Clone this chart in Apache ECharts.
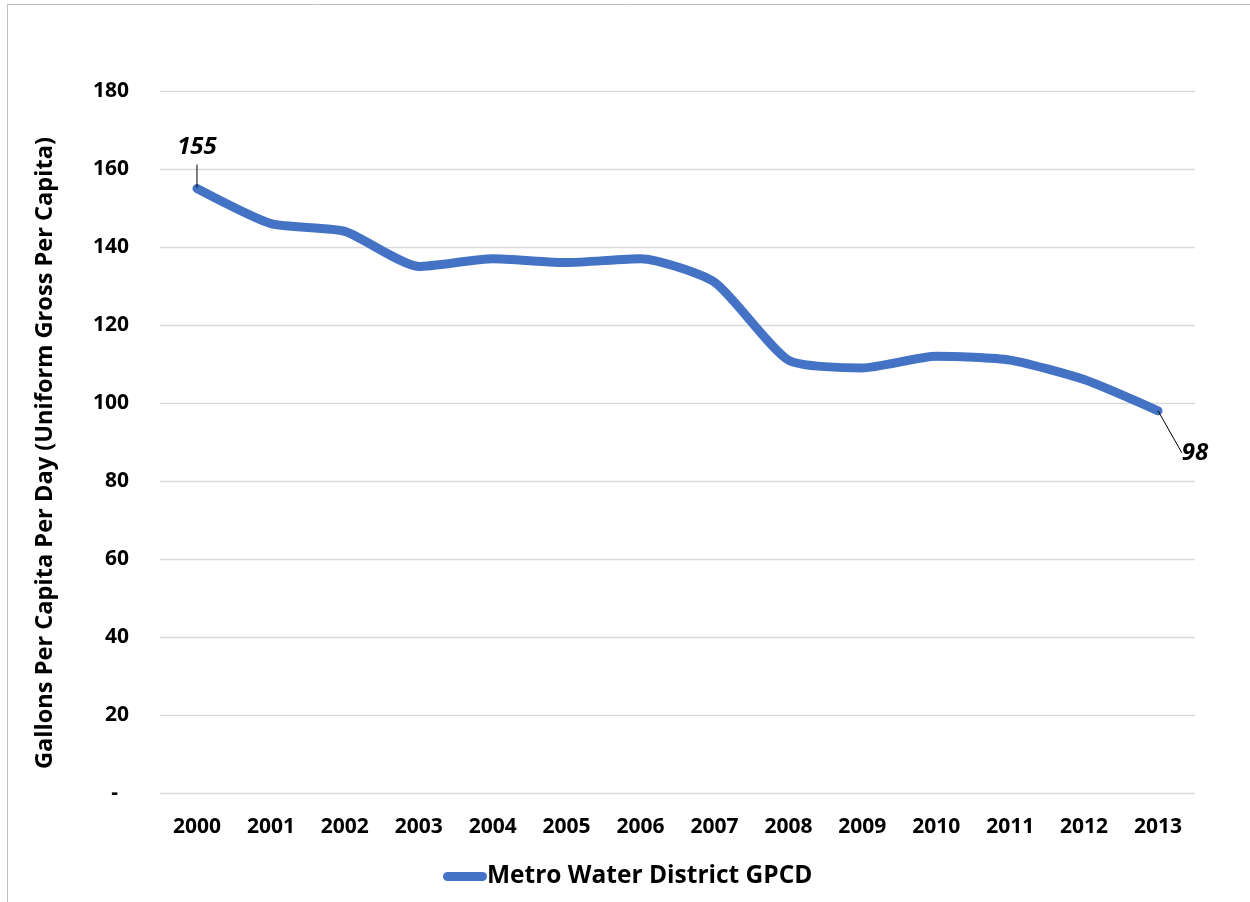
<!DOCTYPE html>
<html><head><meta charset="utf-8">
<script src="https://cdn.jsdelivr.net/npm/echarts@6/dist/echarts.min.js"></script>
<style>html,body{margin:0;padding:0;background:#fff}#c{width:1250px;height:902px}</style>
</head><body><div id="c"></div>
<script>
const years = ['2000','2001','2002','2003','2004','2005','2006','2007','2008','2009','2010','2011','2012','2013'];
const gpcd = [155,146,144,135,137,136,137,131,111,109,112,111,106,98];
const seriesName = 'Metro Water District GPCD';
const yTitle = 'Gallons Per Capita Per Day (Uniform Gross Per Capita)';
const firstIdx = 0, lastIdx = gpcd.length - 1;

const FONT = 'Open Sans';
const labelText = {fontFamily:FONT, fontWeight:'bold', fontStyle:'italic', fontSize:24, color:'#000'};
const chart = echarts.init(document.getElementById('c'));
chart.setOption({
  backgroundColor: '#fff',
  animation: false,
  graphic: [{type:'rect', shape:{x:7.5,y:4.5,width:1260,height:920}, style:{fill:'none', stroke:'#bfbfbf', lineWidth:1}, silent:true}],
  grid: {left:160, right:55, top:91, bottom:109},
  legend: {
    left: 438, top: 859, itemWidth: 44, itemHeight: 9, itemGap: 0,
    icon: 'path://M4.5,0 L39.5,0 A4.5,4.5 0 0 1 39.5,9 L4.5,9 A4.5,4.5 0 0 1 4.5,0 Z',
    textStyle: {fontFamily: FONT, fontWeight:'bold', fontSize:24.5, color:'#000', padding:[0,0,0,-5]},
    data: [seriesName]
  },
  xAxis: {
    type:'category', data: years, boundaryGap: true,
    axisLine:{show:false}, axisTick:{show:false},
    axisLabel:{fontFamily:FONT, fontWeight:'bold', fontSize:21, color:'#000', margin:24}
  },
  yAxis: {
    type:'value', min:0, max:180, interval:20,
    name: yTitle, nameLocation:'middle', nameGap:103, nameRotate:90,
    nameTextStyle:{fontFamily:FONT, fontWeight:'bold', fontSize:23.6, color:'#000', padding:[0,22,0,0]},
    axisLine:{show:false}, axisTick:{show:false},
    splitLine:{lineStyle:{color:'#d9d9d9', width:1.3}},
    axisLabel:{fontFamily:FONT, fontWeight:'bold', fontSize:21, color:'#000', margin:31,
      formatter: v => v === 0 ? '-  ' : String(v)}
  },
  series: [{
    name: seriesName, type:'line',
    data: gpcd.map((v,i)=>{
      if (i === firstIdx) return {
        value: v,
        label: {show:true, position:'top', distance:1,
          formatter: '{v|{c}}\n{g|}',
          rich: {
            v: Object.assign({}, labelText, {lineHeight:34}),
            g: {width:1, height:23, backgroundColor:'#000', align:'center'}
          }
        },
        labelLine: {show:false}
      };
      if (i === lastIdx) return {
        value: v,
        label: {show:true, position:'inside'},
        labelLine: {show:true}
      };
      return {value: v};
    }),
    smooth: 0.2, showSymbol:true, symbol:'circle', symbolSize:0,
    lineStyle:{color:'#4472C4', width:9, cap:'round', join:'round'},
    itemStyle:{color:'#4472C4'},
    label:Object.assign({show:false}, labelText),
    labelLine:{show:false, lineStyle:{color:'#000', width:1}, length2:0},
    labelLayout: function(p){
      if (p.dataIndex === lastIdx) return {dx: 37, dy: 42};
      return {};
    }
  }]
});
</script></body></html>
